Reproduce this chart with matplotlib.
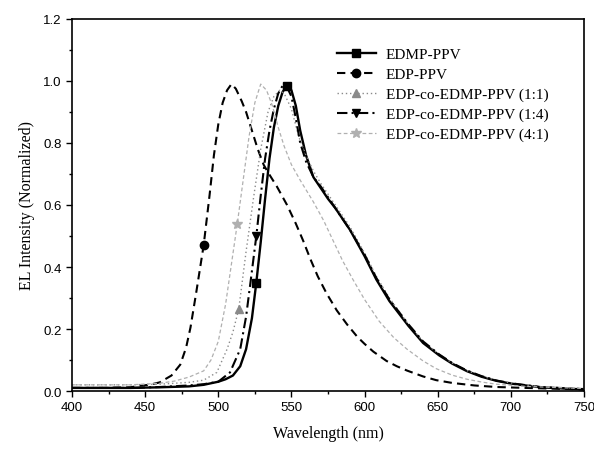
import numpy as np
import matplotlib
matplotlib.use("Agg")
import matplotlib.pyplot as plt
from matplotlib.ticker import MultipleLocator

# ---- data ----
edmp_wl = [400, 420, 440, 460, 480, 490, 500, 505, 510, 515, 519, 523, 526, 529, 532, 535, 538, 541, 544, 547,
           550, 553, 556, 560, 565, 570, 575, 580, 590, 600, 608, 617, 630, 640, 651, 660, 670, 680, 690, 700,
           720, 750]
edmp_i = [0.01, 0.01, 0.01, 0.012, 0.015, 0.02, 0.03, 0.038, 0.05, 0.08, 0.135, 0.235, 0.35, 0.48, 0.62, 0.75, 0.85,
          0.92, 0.965, 0.985, 0.97, 0.92, 0.84, 0.76, 0.69, 0.655, 0.62, 0.59, 0.52, 0.435, 0.36, 0.29, 0.21,
          0.155, 0.115, 0.088, 0.064, 0.046, 0.033, 0.024, 0.012, 0.005]

edp_wl = [400, 420, 440, 446, 453, 460, 468, 474, 478, 481, 485, 490, 494, 497, 500, 503, 506, 509,
          512, 516, 519, 523, 527, 531, 534, 540, 547, 553, 558, 563, 568, 574, 581, 588, 595, 600, 606, 615,
          622, 629, 640, 649, 660, 675, 690, 710, 750]
edp_i = [0.01, 0.01, 0.012, 0.017, 0.02, 0.028, 0.05, 0.085, 0.14, 0.205, 0.32, 0.47, 0.63, 0.76, 0.86, 0.93, 0.97,
         0.99, 0.975, 0.935, 0.90, 0.84, 0.78, 0.73, 0.705, 0.66, 0.60, 0.54, 0.485, 0.425, 0.37, 0.315, 0.26,
         0.215, 0.175, 0.152, 0.127, 0.097, 0.08, 0.066, 0.047, 0.035, 0.026, 0.018, 0.013, 0.01, 0.005]

co11_wl = [400, 420, 440, 460, 480, 490, 499, 506, 510, 514, 519, 524, 529, 534, 538, 542, 545, 550, 555,
           560, 565, 570, 575, 580, 590, 600, 608, 617, 630, 640, 651, 660, 670, 680, 690, 700, 720, 750]
co11_i = [0.02, 0.02, 0.02, 0.022, 0.028, 0.035, 0.06, 0.135, 0.19, 0.265, 0.45, 0.62, 0.78, 0.90, 0.95, 0.97,
          0.96, 0.91, 0.82, 0.76, 0.71, 0.67, 0.635, 0.60, 0.53, 0.445, 0.37, 0.30, 0.215, 0.16, 0.118, 0.09,
          0.066, 0.048, 0.035, 0.026, 0.014, 0.008]

co14_wl = [400, 420, 440, 460, 480, 490, 500, 508, 515, 519, 522, 526, 529, 532, 535, 538, 541, 544, 547,
           550, 553, 556, 560, 565, 570, 575, 580, 590, 600, 608, 617, 630, 640, 651, 660, 670, 680, 690, 700,
           720, 750]
co14_i = [0.01, 0.01, 0.01, 0.013, 0.018, 0.022, 0.03, 0.06, 0.135, 0.24, 0.35, 0.50, 0.63, 0.75, 0.84, 0.91,
          0.96, 0.985, 0.98, 0.95, 0.88, 0.80, 0.74, 0.69, 0.66, 0.625, 0.59, 0.52, 0.44, 0.365, 0.295, 0.215,
          0.16, 0.118, 0.09, 0.066, 0.048, 0.034, 0.025, 0.013, 0.006]

co41_wl = [400, 420, 440, 460, 470, 480, 490, 495, 500, 505, 509, 513, 517, 521, 525, 529, 533, 537, 541, 545, 550,
           556, 565, 572, 579, 585, 592, 600, 610, 620, 629, 640, 649, 660, 670, 680, 690, 710, 750]
co41_i = [0.02, 0.02, 0.02, 0.025, 0.032, 0.045, 0.065, 0.10, 0.16, 0.28, 0.41, 0.54, 0.68, 0.82, 0.93, 0.99, 0.97,
          0.92, 0.85, 0.79, 0.73, 0.68, 0.61, 0.55, 0.48, 0.42, 0.36, 0.295, 0.225, 0.172, 0.135, 0.097, 0.072,
          0.051, 0.038, 0.029, 0.022, 0.015, 0.008]

labels = ["EDMP-PPV", "EDP-PPV", "EDP-co-EDMP-PPV (1:1)", "EDP-co-EDMP-PPV (1:4)", "EDP-co-EDMP-PPV (4:1)"]
marker_wl = [[526, 547], [490], [514], [526], [513]]

x_ticks = [400, 450, 500, 550, 600, 650, 700, 750]
y_ticks = [0.0, 0.2, 0.4, 0.6, 0.8, 1.0, 1.2]

# ---- plot ----
fig = plt.figure(figsize=(5.94, 4.52), dpi=100)
ax = fig.add_axes([0.1212, 0.1327, 0.8620, 0.8231])

series = [(edmp_wl, edmp_i), (edp_wl, edp_i), (co11_wl, co11_i), (co14_wl, co14_i), (co41_wl, co41_i)]
styles = [
    dict(color="black", linestyle="-", linewidth=1.7, marker="s", markersize=5.5),
    dict(color="black", linestyle=(0, (4, 2.5)), linewidth=1.5, marker="o", markersize=6),
    dict(color="#8a8a8a", linestyle=(0, (1, 2)), linewidth=1.0, marker="^", markersize=5.5),
    dict(color="black", linestyle=(0, (5, 2, 1, 2)), linewidth=1.5, marker="v", markersize=6),
    dict(color="#b0b0b0", linestyle=(0, (3, 2)), linewidth=0.9, marker="*", markersize=7),
]

for (wl, inten), lab, st, mw in zip(series, labels, styles, marker_wl):
    wl = np.asarray(wl)
    idx = [int(np.argmin(np.abs(wl - m))) for m in mw]
    ax.plot(wl, inten, label=lab, markevery=idx, **st)

ax.set_xlim(400, 750)
ax.set_ylim(0, 1.2)
ax.set_xticks(x_ticks)
ax.set_yticks(y_ticks)
ax.set_xticklabels([str(v) for v in x_ticks], family="Liberation Sans", fontsize=9.5)
ax.set_yticklabels([f"{v:.1f}" for v in y_ticks], family="Liberation Sans", fontsize=9.5)
ax.xaxis.set_minor_locator(MultipleLocator(25))
ax.yaxis.set_minor_locator(MultipleLocator(0.1))
ax.tick_params(which="both", direction="out", top=False, right=False, width=1.0)
ax.tick_params(which="major", length=4)
ax.tick_params(which="minor", length=2.5)
for sp in ax.spines.values():
    sp.set_linewidth(1.2)

ax.set_xlabel("Wavelength (nm)", family="Liberation Serif", fontsize=11.5, labelpad=8)
ax.set_ylabel("EL Intensity (Normalized)", family="Liberation Serif", fontsize=11.5, labelpad=6)

leg = ax.legend(loc="upper left", bbox_to_anchor=(0.49, 0.96), frameon=False, numpoints=1,
                handlelength=2.6, labelspacing=0.4, handletextpad=0.6,
                prop={"family": "Liberation Serif", "size": 11})

fig.savefig("out.png", dpi=100)
